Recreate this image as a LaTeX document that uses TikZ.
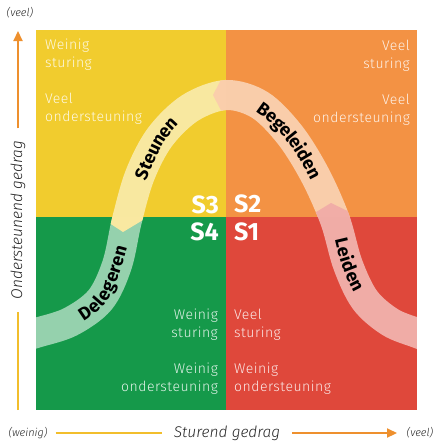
\documentclass[tikz,border=0pt]{standalone}
\usepackage{fontspec}
\setmainfont{Fira Sans}
\newfontfamily\licht{Fira Sans Light}
\usetikzlibrary{arrows.meta, decorations.text}

\definecolor{geel}{HTML}{F1CC2E}
\definecolor{oranje}{HTML}{F39244}
\definecolor{groen}{HTML}{15994A}
\definecolor{rood}{HTML}{DF483B}
\definecolor{asgeel}{HTML}{F2BE2C}
\definecolor{asoranje}{HTML}{EE902E}

\newcommand{\bandlijn}{plot[smooth, tension=0.55] coordinates {(16,339) (36,333) (70,322) (100,300) (117,265) (127,220) (140,175) (160,137) (190,108) (226,95) (260,105) (290,135) (315,175) (335,220) (348,265) (365,300) (390,322) (417,333) (437,340)}}

\tikzset{
  kwadranttekst/.style={font=\licht\fontsize{14}{18}\selectfont\addfontfeature{LetterSpace=3.5}, text=white, text opacity=0.88, inner sep=0pt},
  fase/.style={font=\fontsize{25}{25}\selectfont\bfseries, text=white, inner sep=0pt},
  band/.style={line width=30pt, draw=white, draw opacity=0.55},
  bandtekst/.style={decorate, decoration={text along path, text align=center, raise=-6pt,
      text={|\fontsize{18}{18}\selectfont\bfseries\addfontfeature{LetterSpace=6}|#1}}},
  aspijl/.style={line width=2.2pt},
  astekst/.style={font=\licht\fontsize{15.5}{15.5}\selectfont\itshape, text=black!85, inner xsep=12pt, inner ysep=0pt},
  asuiteinde/.style={font=\licht\fontsize{11}{11}\selectfont\itshape, text=black!85, inner xsep=8pt, inner ysep=0pt},
}

\begin{document}
\begin{tikzpicture}[x=1pt, y=-1pt]
  \useasboundingbox (0,0) rectangle (436,445);

  % Quadrants
  \fill[geel] (36,30) rectangle (226,217);
  \fill[oranje] (226,30) rectangle (417,217);
  \fill[groen] (36,217) rectangle (226,410);
  \fill[rood] (226,217) rectangle (417,410);

  % Band
  \begin{scope}
    \clip (36,30) rectangle (417,410);
    \draw[band] \bandlijn;
  \end{scope}

  % Tips of the band where it enters the next quadrant
  \begin{scope}
    \clip (100,217) -- (148,217) -- (123,232) -- cycle;
    \draw[band, draw=geel!45!white, draw opacity=1] \bandlijn;
  \end{scope}
  \begin{scope}
    \clip (226,70) -- (226,120) -- (213,95) -- cycle;
    \draw[band, draw=oranje!45!white, draw opacity=1] \bandlijn;
  \end{scope}
  \begin{scope}
    \clip (308,217) -- (360,217) -- (331,203) -- cycle;
    \draw[band, draw=rood!45!white, draw opacity=1] \bandlijn;
  \end{scope}

  % Band labels
  \path[bandtekst=Delegeren] (50,329) .. controls (68,324) and (88.6,313.9) .. (100,300)
    .. controls (110.2,287.6) and (118.5,257.3) .. (124,236)
    .. controls (126,228.7) and (126.2,221.3) .. (128,214);
  \path[bandtekst=Steunen] (133,199) .. controls (138,181.7) and (146.3,164.2) .. (154,148)
    .. controls (161.7,131.8) and (175.9,116.7) .. (191,107);
  \path[bandtekst=Begeleiden] (247,101) .. controls (263.6,107.3) and (280.8,123.8) .. (292,138)
    .. controls (303.2,152.2) and (314.4,173.6) .. (322,190);
  \path[bandtekst=Leiden] (336,222) .. controls (341.1,236.1) and (342.8,250.9) .. (348,265)
    .. controls (353.3,279.1) and (359.9,293.4) .. (369,304);

  % Quadrant texts
  \node[kwadranttekst, anchor=north west, align=left] (tekst-s3) at (45,39) {Weinig\\sturing\\[18pt]Veel\\ondersteuning};
  \node[kwadranttekst, anchor=north east, align=right] (tekst-s2) at (410,40) {Veel\\sturing\\[18pt]Veel\\ondersteuning};
  \node[kwadranttekst, anchor=north east, align=right] (tekst-s4) at (218,309) {Weinig\\sturing\\[18pt]Weinig\\ondersteuning};
  \node[kwadranttekst, anchor=north west, align=left] (tekst-s1) at (234,309) {Veel\\sturing\\[18pt]Weinig\\ondersteuning};

  % Styles
  \node[fase, anchor=base east] (s3) at (219,213) {S3};
  \node[fase, anchor=base west] (s2) at (234,212) {S2};
  \node[fase, anchor=base east] (s4) at (219,240) {S4};
  \node[fase, anchor=base west] (s1) at (234,240) {S1};

  % Axes
  \node[astekst, rotate=90] (ondersteunend) at (18,220) {Ondersteunend gedrag};
  \node[astekst] (sturend) at (227,433) {Sturend gedrag};
  \node[asuiteinde] (veel-y) at (20,13) {(veel)};
  \node[asuiteinde] (weinig) at (28,433) {(weinig)};
  \node[asuiteinde] (veel-x) at (420,433) {(veel)};
  \coordinate (oorsprong-y) at (18,410);
  \coordinate (top-y) at (18,31);
  \coordinate (eind-x) at (397,433);

  \draw[aspijl, asgeel] (oorsprong-y) -- (ondersteunend.west);
  \draw[aspijl, asoranje, -{Triangle[length=10pt, width=9pt]}] (ondersteunend.east) -- (top-y);
  \draw[aspijl, asgeel] (weinig.east) -- (sturend.west);
  \draw[aspijl, asoranje, -{Triangle[length=10pt, width=9pt]}] (sturend.east) -- (eind-x);
\end{tikzpicture}
\end{document}
